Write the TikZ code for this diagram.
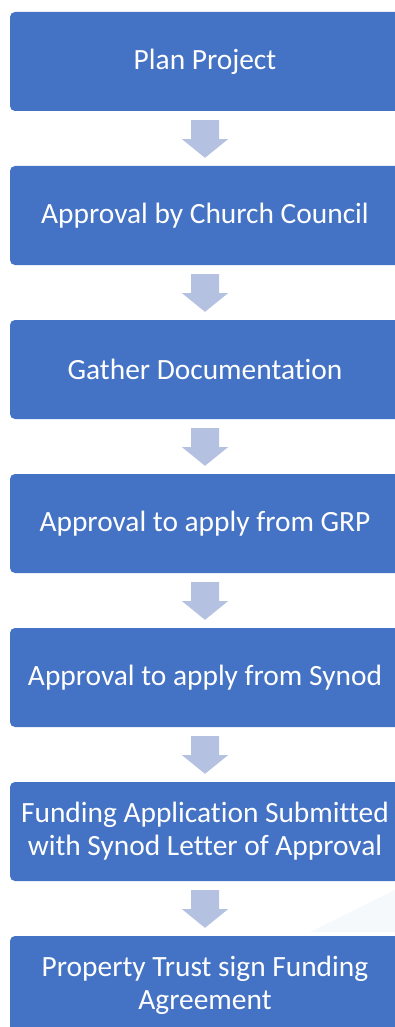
\documentclass[tikz,border=0pt]{standalone}
\usepackage{fontspec}
\setmainfont{Carlito}[Ligatures=NoCommon]
\usetikzlibrary{calc}

\definecolor{boxblue}{HTML}{4472C4}
\definecolor{arrowblue}{HTML}{B4C1E0}
\definecolor{shadeblue}{HTML}{F5F9FC}

\tikzset{
	stepbox/.style={rectangle, rounded corners=5pt, fill=boxblue, text=white,
		minimum width=390pt, minimum height=99pt, align=center, inner sep=2pt,
		font=\fontsize{29.4}{33}\selectfont}
}

% block arrow from one box down to the next
\newcommand{\flowarrow}[2]{%
	\fill[arrowblue] ($(#1.south)+(-14,-9)$) -- ($(#1.south)+(14,-9)$)
	-- ($(#1.south)+(14,-28)$) -- ($(#1.south)+(23,-28)$)
	-- ($(#2.north)+(0,8)$)
	-- ($(#1.south)+(-23,-28)$) -- ($(#1.south)+(-14,-28)$) -- cycle;}

\begin{document}
\begin{tikzpicture}[x=1pt, y=1pt]
	% Parameters
	\def\midX{205}    % centre line of the boxes
	\def\pitch{154}   % distance from one box to the next
	\def\topY{-61.5}  % centre of the first box
	
	\useasboundingbox (0,0) rectangle (395,-1027);
	\clip (0,0) rectangle (395,-1027);
	
	% faint shading behind the last gap
	\fill[shadeblue] (310,-932) -- (395,-890) -- (395,-932) -- cycle;
	
	% Draw the steps
	\node[stepbox] (plan)    at (\midX,\topY) {Plan Project};
	\node[stepbox] (council) at (\midX,\topY-\pitch) {Approval by Church Council};
	\node[stepbox] (docs)    at (\midX,\topY-2*\pitch) {Gather Documentation};
	\node[stepbox] (grp)     at (\midX,\topY-3*\pitch) {Approval to apply from GRP};
	\node[stepbox] (synod)   at (\midX,\topY-4*\pitch) {Approval to apply from Synod};
	\node[stepbox] (submit)  at (\midX,\topY-5*\pitch) {Funding Application Submitted\\with Synod Letter of Approval};
	\node[stepbox] (trust)   at (\midX,\topY-6*\pitch) {Property Trust sign Funding\\Agreement};
	
	% Arrows between the steps
	\flowarrow{plan}{council}
	\flowarrow{council}{docs}
	\flowarrow{docs}{grp}
	\flowarrow{grp}{synod}
	\flowarrow{synod}{submit}
	\flowarrow{submit}{trust}
	
\end{tikzpicture}
\end{document}
